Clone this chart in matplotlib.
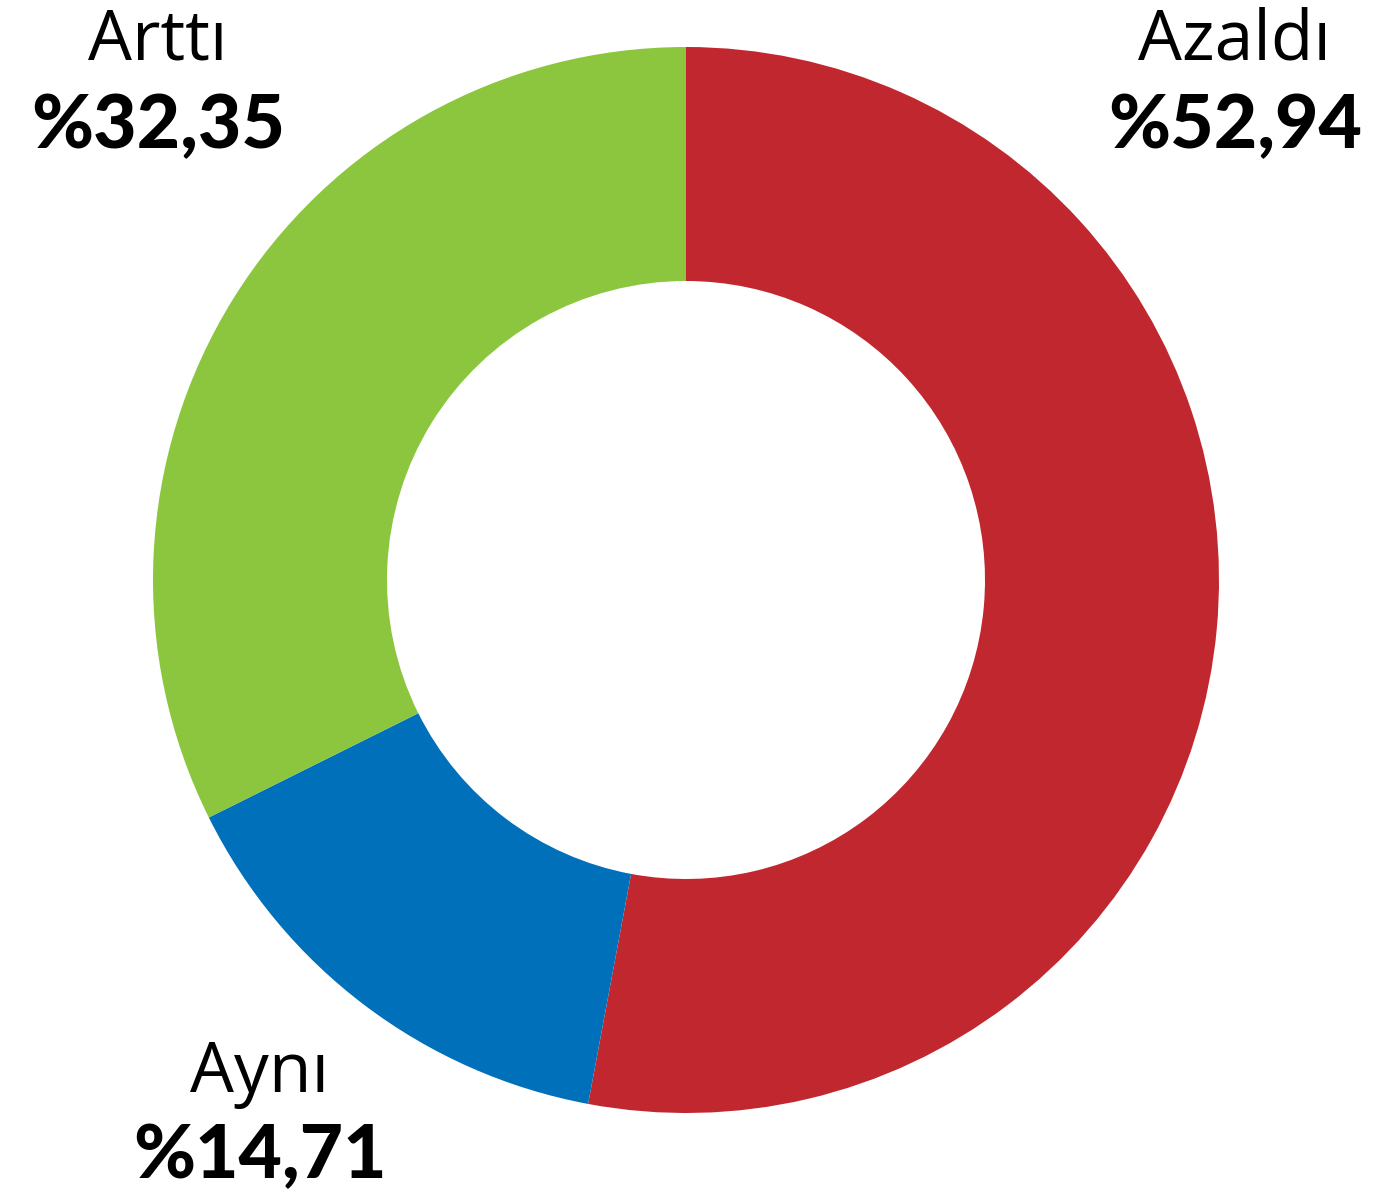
import matplotlib
matplotlib.use("Agg")
import matplotlib.pyplot as plt

# data
labels = ["Azaldı", "Aynı", "Arttı"]
values = [52.94, 14.71, 32.35]
value_text = ["%52,94", "%14,71", "%32,35"]
colors = ["#C1272F", "#0070BA", "#8CC63F"]

W, H = 1373, 1194
fig = plt.figure(figsize=(W / 100, H / 100), dpi=100)
ax = fig.add_axes([0, 0, 1, 1])

cx, cy = 686, H - 580
R = 533
ax.pie(values, colors=colors, startangle=90, counterclock=False,
       center=(cx, cy), radius=R, frame=True,
       wedgeprops=dict(width=R - 299, linewidth=0))
ax.set_xlim(0, W)
ax.set_ylim(0, H)
ax.set_aspect("equal")
ax.axis("off")

# label positions (pixels from top-left)
label_pos = [(1235, 41, 127), (260, 1074, 1157), (158, 41, 127)]
for name, txt, (x, y1, y2) in zip(labels, value_text, label_pos):
    ax.text(x, H - y1, name, ha="center", va="center", fontsize=50,
            family="Open Sans", color="black")
    ax.text(x, H - y2, txt, ha="center", va="center", fontsize=54,
            family="Lato", fontweight="black", color="black")

fig.savefig("out.png", dpi=100)
